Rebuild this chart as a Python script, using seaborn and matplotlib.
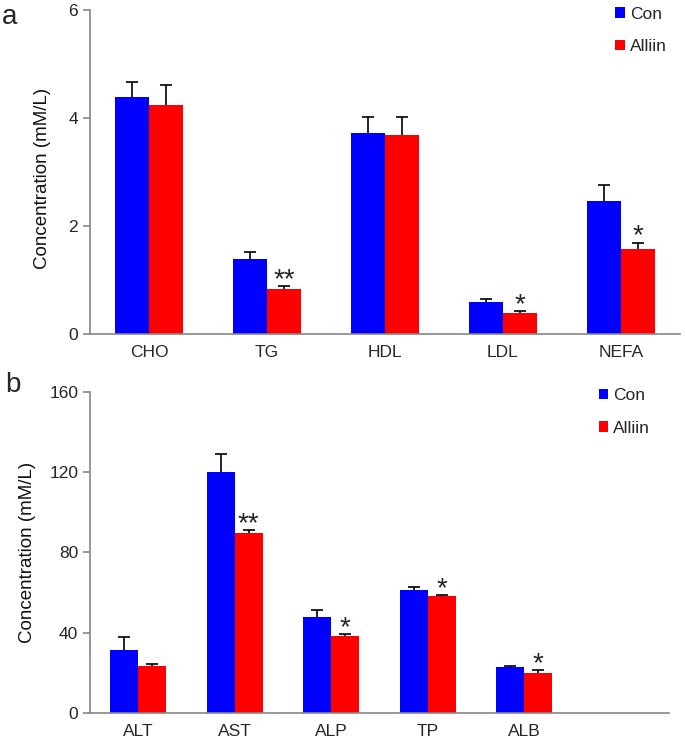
import numpy as np
import pandas as pd
import matplotlib
matplotlib.use('Agg')
import matplotlib.pyplot as plt
import seaborn as sns

# panel a: serum lipids
lipid_labels = ['CHO', 'TG', 'HDL', 'LDL', 'NEFA']
lipid_con = [4.38, 1.38, 3.73, 0.60, 2.46]
lipid_con_err = [0.29, 0.14, 0.28, 0.05, 0.30]
lipid_alliin = [4.25, 0.83, 3.69, 0.38, 1.57]
lipid_alliin_err = [0.36, 0.06, 0.33, 0.05, 0.12]
lipid_sig = ['', '**', '', '*', '*']

# panel b: liver function
liver_labels = ['ALT', 'AST', 'ALP', 'TP', 'ALB']
liver_con = [31.2, 120.1, 47.6, 61.5, 22.9]
liver_con_err = [6.7, 9.2, 3.9, 1.3, 0.4]
liver_alliin = [23.4, 89.6, 38.2, 58.3, 20.1]
liver_alliin_err = [1.2, 1.5, 1.0, 0.4, 1.2]
liver_sig = ['', '**', '*', '*', '*']

groups = ['Con', 'Alliin']
colors = ['#0000FF', '#FF0000']
axis_grey = '#868686'

sns.set_style('white')
plt.rcParams['font.family'] = ['Liberation Sans', 'DejaVu Sans']


def draw_panel(ax, labels, con, con_err, alliin, alliin_err, sig, yticks, n_slots, legend_anchor):
    df = pd.DataFrame({
        'item': labels * 2,
        'group': ['Con'] * len(labels) + ['Alliin'] * len(labels),
        'value': con + alliin,
    })
    sns.barplot(data=df, x='item', y='value', hue='group', order=labels,
                hue_order=groups, palette=colors, saturation=1, width=0.58,
                errorbar=None, linewidth=0, ax=ax)

    # one-sided error bars, upper cap only
    for cont, vals, errs in zip(ax.containers, [con, alliin], [con_err, alliin_err]):
        xs = [p.get_x() + p.get_width() / 2 for p in cont.patches]
        _, caps, _ = ax.errorbar(xs, vals, yerr=[np.zeros(len(vals)), errs],
                                 fmt='none', ecolor='black', elinewidth=1.2,
                                 capsize=4, capthick=1.2)
        caps[0].remove()

    # significance marks above the Alliin bars
    red_bars = ax.containers[1].patches
    for p, v, e, s in zip(red_bars, alliin, alliin_err, sig):
        if s:
            ax.annotate(s, (p.get_x() + p.get_width() / 2, v + e),
                        xytext=(0, -5), textcoords='offset points',
                        ha='center', va='bottom', fontsize=20, color='#222222')

    ax.set_xlim(-0.5, n_slots - 0.5)
    ax.set_ylim(yticks[0], yticks[-1])
    ax.set_yticks(yticks)
    ax.set_xticks(range(n_slots))
    ax.set_xticklabels(labels + [''] * (n_slots - len(labels)))
    ax.set_xticks(np.arange(n_slots + 1) - 0.5, minor=True)
    ax.set_xlabel('')
    ax.set_ylabel('Concentration (mM/L)', fontsize=13.5, color='#111111')

    for side in ['top', 'right']:
        ax.spines[side].set_visible(False)
    for side in ['left', 'bottom']:
        ax.spines[side].set_color(axis_grey)
        ax.spines[side].set_linewidth(1.2)
    ax.tick_params(axis='x', which='major', length=0, pad=8, labelsize=12.5)
    ax.tick_params(axis='x', which='minor', length=5, width=1.2,
                   direction='out', color=axis_grey)
    ax.tick_params(axis='y', length=5, width=1.2, direction='out',
                   color=axis_grey, labelsize=12.5, left=True)

    handles, names = ax.get_legend_handles_labels()
    ax.legend(handles, names, loc='upper right', bbox_to_anchor=legend_anchor,
              frameon=False, handlelength=0.55, handleheight=0.55,
              handletextpad=0.3, labelspacing=1.0, fontsize=12.5)


fig = plt.figure(figsize=(6.85, 7.43), dpi=100)
ax_a = fig.add_axes([0.1314, 0.5505, 0.861, 0.436])
ax_b = fig.add_axes([0.1314, 0.0404, 0.845, 0.432])

draw_panel(ax_a, lipid_labels, lipid_con, lipid_con_err, lipid_alliin,
           lipid_alliin_err, lipid_sig, [0, 2, 4, 6], 5, (1.005, 1.058))
draw_panel(ax_b, liver_labels, liver_con, liver_con_err, liver_alliin,
           liver_alliin_err, liver_sig, [0, 40, 80, 120, 160], 6, (0.995, 1.06))

ax_a.yaxis.set_label_coords(-0.066, 0.48)
ax_b.yaxis.set_label_coords(-0.094, 0.5)

fig.text(0.003, 0.977, 'a', fontsize=20, va='center')
fig.text(0.008, 0.482, 'b', fontsize=20, va='center')

fig.savefig('out.png', dpi=100)
